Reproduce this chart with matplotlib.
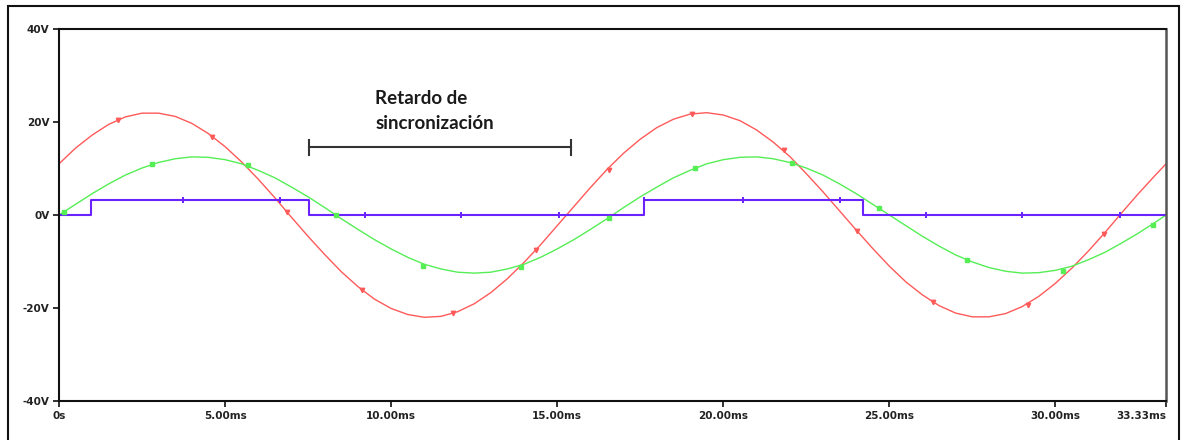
import matplotlib
matplotlib.use('Agg')
import matplotlib.pyplot as plt
from matplotlib.patches import Rectangle

# time base (ms), 0.5 ms steps plus the end point
t_ms = [i * 0.5 for i in range(67)] + [33.33]

# line voltage (red)
v_red = [11.0, 14.4, 17.2, 19.5, 21.1, 21.9, 21.9, 21.2, 19.7, 17.5,
         14.7, 11.4, 7.7, 3.7, -0.5, -4.6, -8.5, -12.2, -15.4, -18.1,
         -20.1, -21.4, -22.0, -21.8, -20.8, -19.1, -16.7, -13.7, -10.2, -6.4,
         -2.3, 1.8, 5.9, 9.8, 13.3, 16.3, 18.8, 20.6, 21.7, 22.0,
         21.5, 20.3, 18.3, 15.7, 12.6, 8.9, 5.0, 0.9, -3.2, -7.2,
         -11.0, -14.4, -17.2, -19.5, -21.1, -21.9, -21.9, -21.2, -19.7, -17.5,
         -14.7, -11.4, -7.7, -3.7, 0.5, 4.6, 8.5, 11.0]

# reference voltage (green)
v_green = [0.0, 2.3, 4.6, 6.7, 8.6, 10.1, 11.3, 12.1, 12.5, 12.4,
           11.9, 11.0, 9.6, 8.0, 6.0, 3.9, 1.6, -0.8, -3.1, -5.3,
           -7.3, -9.1, -10.6, -11.6, -12.3, -12.5, -12.3, -11.6, -10.6, -9.1,
           -7.3, -5.3, -3.1, -0.8, 1.6, 3.9, 6.0, 8.0, 9.6, 11.0,
           11.9, 12.4, 12.5, 12.1, 11.3, 10.1, 8.6, 6.7, 4.6, 2.3,
           0.0, -2.3, -4.6, -6.7, -8.6, -10.1, -11.3, -12.1, -12.5, -12.4,
           -11.9, -11.0, -9.6, -8.0, -6.0, -3.9, -1.6, 0.0]

# gate pulse (blue), step edges
pulse_t = [0, 0.95, 7.53, 17.6, 24.2, 33.33]
pulse_v = [0, 3.3, 0, 3.3, 0, 0]

# trace markers
red_mk_t = [1.78, 4.61, 6.87, 9.13, 11.87, 14.37, 16.57, 19.07, 21.84, 24.04, 26.3, 29.16, 31.45]
red_mk_v = [20.4, 16.8, 0.6, -16.1, -21.1, -7.5, 9.7, 21.7, 14.0, -3.4, -18.7, -19.4, -4.1]
green_mk_t = [0.15, 2.8, 5.7, 8.34, 10.97, 13.9, 16.57, 19.16, 22.08, 24.7, 27.35, 30.24, 32.95]
green_mk_v = [0.6, 11.0, 10.8, 0.0, -11.0, -11.2, -0.6, 10.1, 11.2, 1.5, -9.7, -12.0, -2.2]
blue_mk_t = [0.95, 3.73, 6.66, 9.2, 12.1, 15.06, 17.6, 20.6, 23.5, 26.1, 29.0, 31.96]
blue_mk_v = [1.7, 3.3, 3.3, 0, 0, 0, 3.3, 3.3, 3.3, 0, 0, 0]

xticks = [0, 5, 10, 15, 20, 25, 30, 33.33]
xlabels = ['0s', '5.00ms', '10.00ms', '15.00ms', '20.00ms', '25.00ms', '30.00ms', '33.33ms']
yticks = [-40, -20, 0, 20, 40]
ylabels = ['-40V', '-20V', '0V', '20V', '40V']

red_c = '#ff5a5a'
green_c = '#55ee55'
blue_c = '#6a22ff'

fig = plt.figure(figsize=(11.89, 4.40), dpi=100)
ax = fig.add_axes([59 / 1189, 1 - 401 / 440, (1166 - 59) / 1189, (401 - 29) / 440])

ax.plot(t_ms, v_red, '-', color=red_c, lw=1.0)
ax.plot(t_ms, v_green, '-', color=green_c, lw=1.0)
ax.step(pulse_t, pulse_v, where='post', color=blue_c, lw=1.5)

ax.plot(red_mk_t, red_mk_v, 'v', color=red_c, ms=3.2, ls='none')
ax.plot(green_mk_t, green_mk_v, 's', color=green_c, ms=3.2, ls='none')
ax.plot(blue_mk_t, blue_mk_v, '|', color=blue_c, ms=5, mew=1.4, ls='none')

# delay bracket and annotation
ax.plot([7.53, 15.42], [14.6, 14.6], color='#333333', lw=1.5)
ax.plot([7.53, 7.53], [13.0, 16.2], color='#333333', lw=1.5)
ax.plot([15.42, 15.42], [13.0, 16.2], color='#333333', lw=1.5)
ax.text(9.52, 23.9, 'Retardo de', family='Lato', weight='bold', fontsize=13.5,
        color='#1a1a1a', va='baseline', ha='left')
ax.text(9.52, 18.4, 'sincronización', family='Lato', weight='bold', fontsize=13.5,
        color='#1a1a1a', va='baseline', ha='left')

ax.set_xlim(0, 33.33)
ax.set_ylim(-40, 40)
ax.set_xticks(xticks)
ax.set_xticklabels(xlabels)
ax.set_yticks(yticks)
ax.set_yticklabels(ylabels)
ax.tick_params(direction='out', length=4, width=1.3, labelsize=7.5, colors='#222222', pad=3)
for lbl in ax.get_xticklabels() + ax.get_yticklabels():
    lbl.set_fontweight('bold')
ax.get_xticklabels()[-1].set_horizontalalignment('right')
for side in ['left', 'bottom', 'top']:
    ax.spines[side].set_linewidth(1.5)
    ax.spines[side].set_color('#111111')
ax.spines['right'].set_linewidth(1.8)
ax.spines['right'].set_color('#555555')

# outer frame around the picture
fig.add_artist(Rectangle((8 / 1189, -0.05), (1179 - 8) / 1189, 1.05 - 6 / 440,
                         transform=fig.transFigure, fill=False,
                         edgecolor='#111111', lw=1.5))

fig.savefig('out.png', dpi=100)
plt.close()
